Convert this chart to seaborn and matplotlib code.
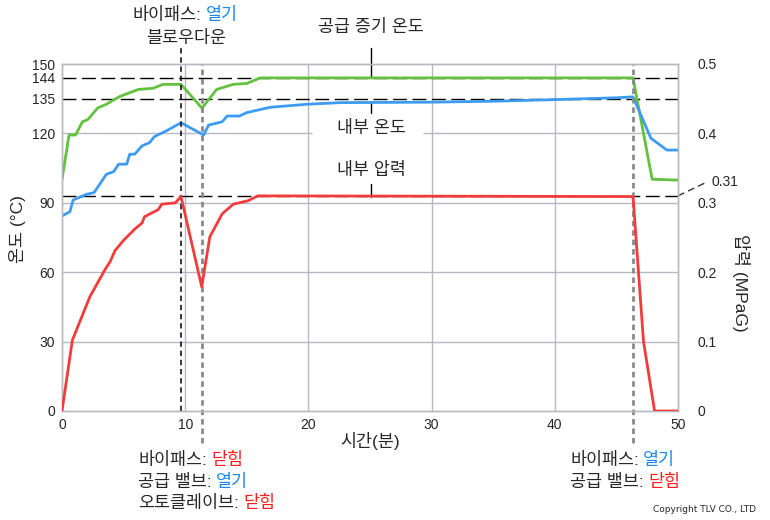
import numpy as np
import pandas as pd
import seaborn as sns
import matplotlib
matplotlib.use('Agg')
import matplotlib.pyplot as plt

# 데이터
steam_t = [0, 0.57, 1.1, 1.65, 2.1, 2.9, 3.6, 4.7, 6.2, 7.4, 8.2, 9.66, 11.36,
           12.55, 13.9, 15.0, 16.1, 46.35, 47.9, 50]
steam_temp = [100, 119.3, 119.3, 125, 126, 131, 132.6, 136, 139, 139.5, 141.2,
              141.2, 130.9, 139, 141.2, 141.6, 144, 144, 100.2, 99.8]

inner_t = [0, 0.65, 0.9, 2.0, 2.6, 3.6, 4.2, 4.6, 5.25, 5.5, 5.9, 6.5, 7.1, 7.5,
           8.5, 9.66, 11.5, 11.9, 13.0, 13.4, 14.4, 15.0, 16.9, 19.9, 22.6, 30,
           35, 40, 45, 46.35, 47.8, 49.1, 50]
inner_temp = [84.3, 86.2, 91.2, 93.7, 94.4, 102.3, 103.5, 106.7, 106.7, 111, 111,
              114.6, 116, 118.6, 121.2, 124.6, 119.3, 123.6, 125, 127.5, 127.5,
              129, 131.3, 132.6, 133.3, 133.5, 133.9, 134.6, 135.4, 135.8, 117.9,
              112.8, 112.8]

press_t = [0, 0.84, 2.27, 3.5, 3.9, 4.3, 5.0, 5.9, 6.5, 6.7, 7.8, 8.1, 9.2, 9.66,
           11.34, 12.0, 13.0, 13.9, 15.1, 15.9, 46.35, 47.2, 48.1, 50]
press = [0, 0.102, 0.165, 0.204, 0.215, 0.231, 0.246, 0.262, 0.271, 0.28, 0.29,
         0.298, 0.30, 0.309, 0.179, 0.251, 0.284, 0.298, 0.303, 0.31, 0.309,
         0.10, 0, 0]

temp_ticks = [0, 30, 60, 90, 120, 135, 144, 150]
press_ticks = [0, 0.1, 0.2, 0.3, 0.4, 0.5]
press_labels = ['0', '0.1', '0.2', '0.3', '0.4', '0.5']
time_ticks = [0, 10, 20, 30, 40, 50]
events = [9.66, 11.36, 46.35]   # 블로우다운, 바이패스 닫힘, 바이패스 열기
p_set = 0.31

GREEN = '#62c23e'
BLUE = '#3d9cf0'
RED = '#f23c3c'
TXT_BLUE = '#1a88e8'
TXT_RED = '#ff1e1e'
GRID = '#b8b8c2'
KS = 12.5   # 한글 라벨 글자 크기

sns.set_style('white')
plt.rcParams['font.family'] = ['Liberation Sans', 'Noto Sans CJK KR', 'DejaVu Sans']

fig = plt.figure(figsize=(7.7, 5.2), dpi=100)
ax = fig.add_axes([62 / 770, 1 - 411 / 520, 616 / 770, 347 / 520])
ax2 = ax.twinx()

df_steam = pd.DataFrame({'t': steam_t, 'v': steam_temp})
df_inner = pd.DataFrame({'t': inner_t, 'v': inner_temp})
df_press = pd.DataFrame({'t': press_t, 'v': press})

# 격자선
for x in time_ticks[1:-1]:
    ax.axvline(x, color=GRID, lw=1, zorder=0)
for y in [30, 60, 90]:
    ax.axhline(y, color=GRID, lw=1, zorder=0)
ax.hlines(120, 0, 20.3, color=GRID, lw=1, zorder=0)
ax.hlines(120, 29.3, 50, color=GRID, lw=1, zorder=0)

# 기준 점선
for y in [135, 144, p_set * 300]:
    ax.axhline(y, color='black', lw=1, dashes=(10, 4), zorder=1)

sns.lineplot(data=df_steam, x='t', y='v', ax=ax, color=GREEN, lw=2, estimator=None, zorder=3)
sns.lineplot(data=df_inner, x='t', y='v', ax=ax, color=BLUE, lw=2, estimator=None, zorder=3)
sns.lineplot(data=df_press, x='t', y='v', ax=ax2, color=RED, lw=2, estimator=None, zorder=3)

ax.set_xlim(0, 50)
ax.set_ylim(0, 150)
ax2.set_ylim(0, 0.5)

# 이벤트 세로선
ax.plot([events[0], events[0]], [0, 156.9], color='black', lw=1.1, dashes=(3.5, 2.5),
        clip_on=False, zorder=4)
for x in events[1:]:
    ax.plot([x, x], [-13.8, 150], color='#8a8a8a', lw=2, dashes=(2, 1.4),
            clip_on=False, zorder=4)

# 지시선
ax.plot([25.08, 25.08], [144, 156.9], color='black', lw=1, clip_on=False)
ax.plot([25.08, 25.08], [128.9, 133.1], color='black', lw=1)
ax.plot([25.08, 25.08], [92.6, 98], color='black', lw=1)
ax.plot([50, 52.2], [p_set * 300, 98.6], color='#333333', lw=1, dashes=(5, 3),
        clip_on=False)
ax.text(52.7, 99, '0.31', fontsize=10, ha='left', va='center')

ax.text(25.08, 122.3, '내부 온도', fontsize=KS, ha='center', va='center')
ax.text(25.08, 104.2, '내부 압력', fontsize=KS, ha='center', va='center')

# 축 설정
ax.set_xticks(time_ticks)
ax.set_yticks(temp_ticks)
ax2.set_yticks(press_ticks)
ax2.set_yticklabels(press_labels)
ax.tick_params(axis='both', length=0, labelsize=10, pad=5)
ax2.tick_params(axis='y', length=0, labelsize=10, pad=14)
ax.set_xlabel('시간(분)', fontsize=KS, labelpad=0)
ax.set_ylabel('온도 (°C)', fontsize=KS, va='center', ha='center')
ax.yaxis.set_label_coords((18 - 62) / 616, (411 - 229) / 347)
ax2.set_ylabel('압력 (MPaG)', fontsize=KS, rotation=270, va='center', ha='center')
ax2.yaxis.set_label_coords((741 - 62) / 616, (411 - 283) / 347)
for a in (ax, ax2):
    for s in a.spines.values():
        s.set_color(GRID)
        s.set_linewidth(1)


def fig_xy(px, py):
    return px / 770, 1 - py / 520


def two_tone(px, py, first, second, color, size=KS):
    t = fig.text(*fig_xy(px, py), first, fontsize=size, ha='left', va='center')
    ax.annotate(second, xy=(1, 0.5), xycoords=t, xytext=(3, 0),
                textcoords='offset points', fontsize=size, color=color,
                ha='left', va='center', annotation_clip=False)


two_tone(133, 15, '바이패스:', '열기', TXT_BLUE)
fig.text(*fig_xy(186, 38), '블로우다운', fontsize=KS, ha='center', va='center')
fig.text(*fig_xy(371, 27), '공급 증기 온도', fontsize=KS, ha='center', va='center')

two_tone(138, 460, '바이패스:', '닫힘', TXT_RED)
two_tone(138, 482, '공급 밸브:', '열기', TXT_BLUE)
two_tone(138, 503, '오토클레이브:', '닫힘', TXT_RED)
two_tone(570, 460, '바이패스:', '열기', TXT_BLUE)
two_tone(570, 482, '공급 밸브:', '닫힘', TXT_RED)

fig.text(*fig_xy(756, 510), 'Copyright TLV CO., LTD', fontsize=6.5,
         family='DejaVu Sans', ha='right', va='center')

fig.savefig('out.png', dpi=100)
